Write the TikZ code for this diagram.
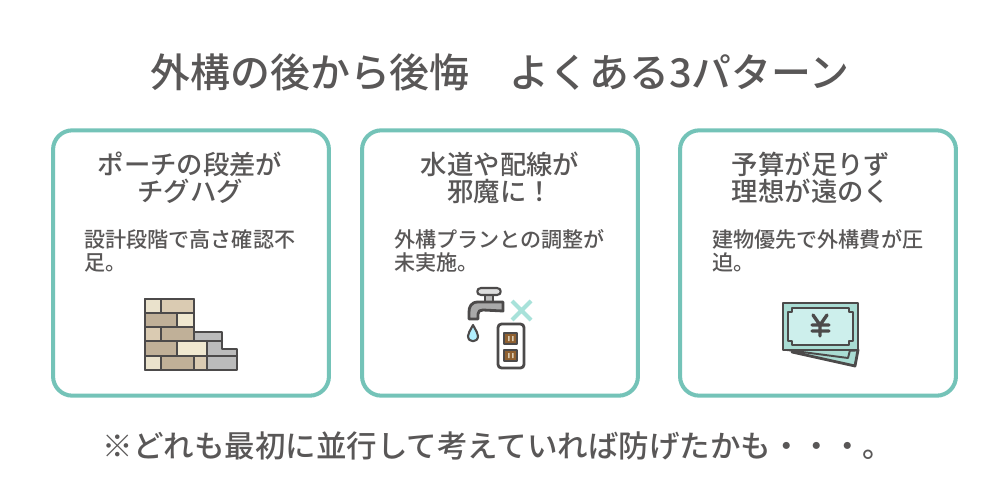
\documentclass[tikz,border=0pt]{standalone}
\usepackage{fontspec}
\setmainfont{Noto Sans CJK JP}
\newfontfamily\medfont{Noto Sans CJK JP Medium}
\definecolor{inkgray}{HTML}{595757}
\definecolor{cardgreen}{HTML}{74C3B8}
\definecolor{icondark}{HTML}{4C4A4A}
\definecolor{brickA}{HTML}{EAE2CC}
\definecolor{brickB}{HTML}{DACBB2}
\definecolor{brickC}{HTML}{C0B098}
\definecolor{brickD}{HTML}{F0E8D0}
\definecolor{stonegray}{HTML}{BBBBBB}
\definecolor{billback}{HTML}{A9DCD3}
\definecolor{billfront}{HTML}{CDEFEC}
\definecolor{crossgreen}{HTML}{A8E2DA}
\tikzset{
	card/.style={draw=cardgreen,line width=2.3pt,rounded corners=11pt,fill=white,minimum width=157pt,minimum height=151pt,inner sep=0pt},
	headtext/.style={font=\fontsize{15}{15.4}\selectfont\medfont,text=inkgray,align=center,inner sep=0pt},
	bodytext/.style={font=\fontsize{12}{13}\selectfont\medfont,text=inkgray,align=left,inner sep=0pt},
	iconline/.style={draw=icondark,line width=1.6pt,line join=round,line cap=round}
}
\begin{document}
\begin{tikzpicture}[x=0.2mm,y=-0.2mm]
	\useasboundingbox (0,0) rectangle (1000,500);
	%Tiêu đề
	\node[font=\fontsize{22.7}{24}\selectfont\medfont,text=inkgray,inner sep=0pt] (title) at (500,72) {外構の後から後悔　よくある3パターン};
	%Thẻ
	\node[card] (cardA) at (191,263) {};
	\node[card] (cardB) at (500,263) {};
	\node[card] (cardC) at (818,263) {};
	\node[headtext] (headA) at (190,178) {ポーチの段差が\\チグハグ};
	\node[headtext] (headB) at (500,178) {水道や配線が\\邪魔に！};
	\node[headtext] (headC) at (811,178) {予算が足りず\\理想が遠のく};
	\node[bodytext,anchor=north west] (bodyA) at (84,229) {設計段階で高さ確認不\\足。};
	\node[bodytext,anchor=north west] (bodyB) at (394,229) {外構プランとの調整が\\未実施。};
	\node[bodytext,anchor=north west] (bodyC) at (712,229) {建物優先で外構費が圧\\迫。};
	%Gạch
	\fill[stonegray] (194,332)--(222,332)--(222,349)--(237,349)--(237,370)--(194,370)--cycle;
	\foreach \xa/\xb/\ya/\yb/\c in {145/161/299/313/brickA,161/194/299/313/brickB,145/177/313/327/brickC,177/194/313/327/brickD,145/161/327/341/brickB,161/194/327/341/brickC,145/177/341/356/brickC,177/207/341/356/brickD,145/161/356/370/brickA,161/194/356/370/brickC,194/207/356/370/brickB}
	\filldraw[iconline,line width=1.3pt,fill=\c] (\xa,\ya) rectangle (\xb,\yb);
	\draw[iconline] (145,299)--(194,299)--(194,332)--(222,332)--(222,349)--(237,349)--(237,370)--(145,370)--cycle;
	\draw[iconline,line width=1.3pt] (194,341)--(222,341) (207,341)--(207,370) (207,356)--(237,356);
	%Vòi nước
	\filldraw[iconline,fill=stonegray] (485,295) rectangle (493,303);
	\filldraw[iconline,line width=1.2pt,fill=stonegray!50!white] (481,288)..controls (476,288) and (476,295) .. (481,295)--(497,295)..controls (502,295) and (502,288) .. (497,288)--cycle;
	\filldraw[iconline,fill=stonegray!70!gray] (503,302)--(478,302)..controls (471,302) and (469,307) .. (469,312)--(469,319)--(478,319)--(478,314)..controls (478,311) and (480,310) .. (483,310)--(503,311)--cycle;
	\filldraw[iconline,line width=1.2pt,fill=blue!20!cyan!30!white] (473,325)..controls (470,331) and (468,333) .. (468,336)..controls (468,343) and (478,343) .. (478,336)..controls (478,333) and (476,331) .. (473,325)--cycle;
	\draw[draw=crossgreen,line width=2.4pt] (512,301)--(531,320) (531,301)--(512,320);
	%Ổ cắm
	\draw[iconline,fill=white,rounded corners=2pt] (498,324) rectangle (524,368);
	\foreach \ya in {333,350}{
		\filldraw[iconline,line width=0.7pt,fill=brown!75!black] (504,\ya) rectangle (517,\ya+11);
		\fill[brickB] (508,\ya+3) rectangle (509.5,\ya+8) (512,\ya+3) rectangle (513.5,\ya+8);
	}
	%Tiền
	\filldraw[iconline,fill=billback] (792,352)--(855,366)--(858,350)--cycle;
	\filldraw[iconline,line width=1.1pt,fill=billback] (787,350)--(848,358)--(850,350)--cycle;
	\filldraw[iconline,fill=billback] (783,303) rectangle (858,350);
	\filldraw[iconline,fill=billfront] (792,308)--(849,308)--(849,312)--(853,312)--(853,341)--(849,341)--(849,345)--(792,345)--(792,341)--(788,341)--(788,312)--(792,312)--cycle;
	\draw[iconline,line width=1.9pt] (813,315)--(820,325)--(827,315) (820,325)--(820,336) (812,325)--(829,325) (812,331)--(829,331);
	%Dòng cuối
	\node[font=\fontsize{17.35}{18}\selectfont\medfont,text=inkgray,inner sep=0pt] (footer) at (498,446) {※どれも最初に並行して考えていれば防げたかも・・・。};
\end{tikzpicture}
\end{document}
